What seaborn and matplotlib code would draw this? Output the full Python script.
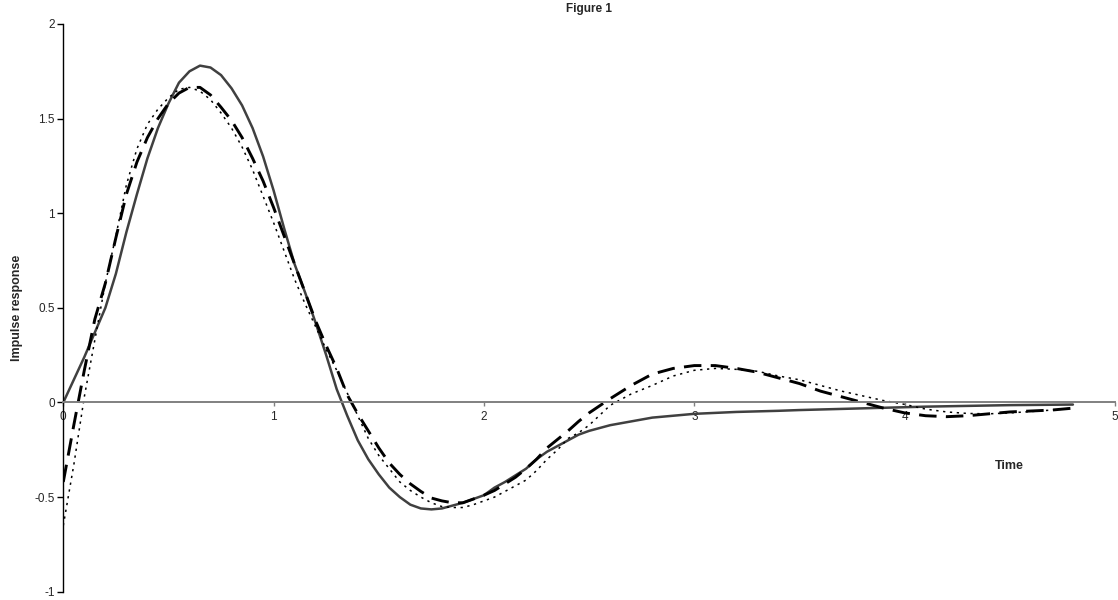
import numpy as np
import pandas as pd
import matplotlib
matplotlib.use("Agg")
import matplotlib.pyplot as plt
import seaborn as sns

# time grid: 0.05 steps up to 2.5, then 0.1 steps to 4.8
time = [round(0.05 * i, 2) for i in range(51)] + [round(2.5 + 0.1 * i, 1) for i in range(1, 24)]

# solid grey series
solid = [0.00, 0.12, 0.24, 0.37, 0.50, 0.68, 0.90, 1.10, 1.29, 1.45,
         1.58, 1.69, 1.75, 1.78, 1.77, 1.73, 1.66, 1.57, 1.45, 1.30,
         1.12, 0.92, 0.73, 0.58, 0.42, 0.25, 0.07, -0.07, -0.20, -0.30,
         -0.38, -0.45, -0.50, -0.54, -0.56, -0.565, -0.56, -0.545, -0.53, -0.51,
         -0.49, -0.45, -0.42, -0.385, -0.35, -0.30, -0.26, -0.23, -0.20, -0.17,
         -0.15,
         -0.12, -0.10, -0.08, -0.07, -0.06, -0.055, -0.05, -0.047, -0.044, -0.04,
         -0.037, -0.034, -0.031, -0.028, -0.025, -0.022, -0.02, -0.018, -0.016, -0.014,
         -0.013, -0.012, -0.011]

# long dashed black series
dashed = [-0.42, -0.12, 0.17, 0.44, 0.63, 0.87, 1.10, 1.27, 1.40, 1.50,
          1.58, 1.635, 1.665, 1.665, 1.625, 1.56, 1.49, 1.40, 1.29, 1.17,
          1.03, 0.88, 0.73, 0.58, 0.43, 0.30, 0.18, 0.04, -0.06, -0.15,
          -0.24, -0.32, -0.38, -0.43, -0.47, -0.505, -0.52, -0.53, -0.53, -0.51,
          -0.49, -0.465, -0.43, -0.395, -0.35, -0.30, -0.24, -0.195, -0.15, -0.10,
          -0.055,
          0.02, 0.09, 0.15, 0.18, 0.195, 0.195, 0.18, 0.16, 0.13, 0.10,
          0.06, 0.03, 0.00, -0.03, -0.055, -0.07, -0.075, -0.07, -0.06, -0.05,
          -0.045, -0.04, -0.03]

# dotted black series
dotted = [-0.65, -0.33, 0.03, 0.33, 0.63, 0.88, 1.15, 1.34, 1.47, 1.55,
          1.61, 1.655, 1.665, 1.645, 1.60, 1.53, 1.45, 1.35, 1.23, 1.09,
          0.95, 0.80, 0.65, 0.52, 0.40, 0.28, 0.17, 0.05, -0.07, -0.19,
          -0.28, -0.35, -0.42, -0.465, -0.50, -0.53, -0.55, -0.555, -0.555, -0.54,
          -0.52, -0.50, -0.47, -0.44, -0.41, -0.36, -0.30, -0.25, -0.19, -0.16,
          -0.12,
          -0.015, 0.045, 0.09, 0.14, 0.17, 0.18, 0.175, 0.165, 0.14, 0.12,
          0.09, 0.06, 0.035, 0.01, -0.01, -0.035, -0.05, -0.058, -0.06, -0.055,
          -0.048, -0.04, -0.03]

x_ticks = [0, 1, 2, 3, 4, 5]
y_ticks = [-1, -0.5, 0, 0.5, 1, 1.5, 2]
y_tick_labels = ["-1", "-0.5", "0", "0.5", "1", "1.5", "2"]

sns.set_style("white")
plt.rcParams["font.family"] = ["Liberation Sans", "DejaVu Sans"]

fig = plt.figure(figsize=(11.18, 6.0), dpi=100)
ax = fig.add_axes([0.0566, 0.0138, 0.9407, 0.9462])

sns.lineplot(x=time, y=solid, ax=ax, color="#404040", linewidth=1.8)
sns.lineplot(x=time, y=dashed, ax=ax, color="black", linewidth=2.1)
sns.lineplot(x=time, y=dotted, ax=ax, color="black", linewidth=1.1)
ax.lines[1].set_dashes((6, 3.2))
ax.lines[2].set_dashes((1.5, 3))
for line in ax.lines:
    line.set_solid_joinstyle("round")
    line.set_dash_joinstyle("round")

ax.set_xlim(0, 5)
ax.set_ylim(-1, 2)

# axes styling: left spine black, x axis drawn at y = 0 in grey
for side in ["top", "right"]:
    ax.spines[side].set_visible(False)
ax.spines["left"].set_color("black")
ax.spines["left"].set_linewidth(1.0)
ax.spines["bottom"].set_position(("data", 0))
ax.spines["bottom"].set_color("#808080")
ax.spines["bottom"].set_linewidth(1.4)

ax.set_xticks(x_ticks)
ax.set_xticklabels([str(t) for t in x_ticks])
ax.set_yticks(y_ticks)
ax.set_yticklabels(y_tick_labels)
ax.tick_params(axis="y", direction="out", length=4, width=1, color="black",
               labelsize=8.5, pad=2, left=True)
ax.tick_params(axis="x", direction="out", length=3, width=1, color="#808080",
               labelsize=8.5, pad=3, bottom=True)

ax.set_ylabel("Impulse response", fontsize=9, fontweight="bold", labelpad=8)
ax.set_xlabel("")
ax.text(4.5, -0.335, "Time", ha="center", va="center", fontsize=9, fontweight="bold")
fig.text(0.527, 0.985, "Figure 1", ha="center", va="center", fontsize=8.5, fontweight="bold")

fig.savefig("out.png", dpi=100)
